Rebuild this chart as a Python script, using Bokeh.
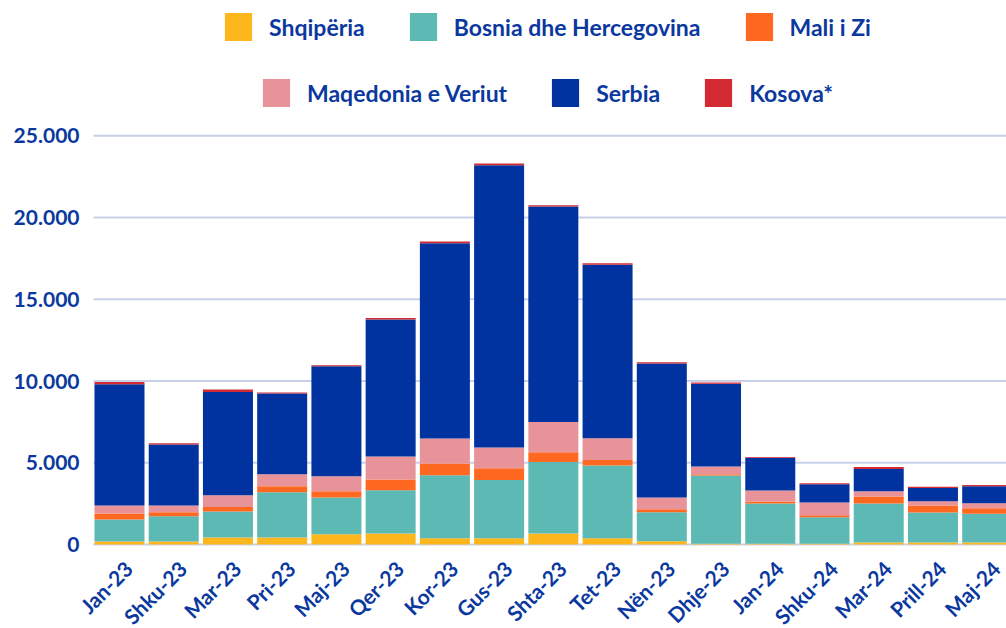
import math
from bokeh.plotting import figure
from bokeh.models import ColumnDataSource, Range1d, Legend, LegendItem, LabelSet
from bokeh.core.properties import value
from bokeh.embed import file_html
from bokeh.resources import INLINE

months = ["Jan-23", "Shku-23", "Mar-23", "Pri-23", "Maj-23", "Qer-23", "Kor-23", "Gus-23",
          "Shta-23", "Tet-23", "Nën-23", "Dhje-23", "Jan-24", "Shku-24", "Mar-24",
          "Prill-24", "Maj-24"]

shqiperia = [180, 180, 430, 430, 630, 670, 390, 390, 670, 390, 200, 40, 40, 40, 120, 120, 120]
bosnia = [1350, 1550, 1590, 2770, 2250, 2650, 3840, 3550, 4370, 4450, 1780, 4180, 2470, 1630, 2390, 1840, 1760]
mali_i_zi = [370, 250, 270, 370, 370, 650, 730, 730, 610, 330, 180, 80, 120, 120, 430, 430, 330]
maqedonia = [490, 410, 720, 730, 920, 1410, 1530, 1270, 1840, 1330, 710, 470, 670, 780, 310, 250, 310]
serbia = [7410, 3730, 6320, 4940, 6730, 8380, 11930, 17260, 13180, 10610, 8200, 5060, 2000, 1120, 1370, 820, 1040]
kosova = [140, 80, 150, 60, 60, 100, 120, 100, 80, 100, 80, 80, 60, 60, 120, 80, 80]

series_names = ["Shqipëria", "Bosnia dhe Hercegovina", "Mali i Zi",
                "Maqedonia e Veriut", "Serbia", "Kosova*"]
series_keys = ["shq", "bih", "mne", "mkd", "srb", "kos"]
colors = ["#FDB71C", "#5CB9B3", "#FF6820", "#E8939A", "#0033A0", "#D42A34"]

y_ticks = [0, 5000, 10000, 15000, 20000, 25000]
y_labels = ["0", "5.000", "10.000", "15.000", "20.000", "25.000"]

TEXT = "#0A389E"
FONT = "Lato"

X_START, X_END = -2.194, 16.356   # visible category span
GRID_START = -0.479               # left edge of the plotting area (value axis side)

x_pos = list(range(len(months)))
src = ColumnDataSource(dict(x=x_pos, shq=shqiperia, bih=bosnia, mne=mali_i_zi,
                            mkd=maqedonia, srb=serbia, kos=kosova, month=months,
                            base=[0] * len(months)))
ysrc = ColumnDataSource(dict(y=y_ticks, label=y_labels,
                             x0=[GRID_START] * len(y_ticks), x1=[X_END] * len(y_ticks)))

p = figure(width=1006, height=628,
           x_range=Range1d(X_START, X_END), y_range=Range1d(-5138, 33276),
           x_axis_location=None, y_axis_location=None,
           output_backend="svg", toolbar_location=None,
           min_border_left=0, min_border_right=0, min_border_top=0, min_border_bottom=0)
p.outline_line_color = None
p.background_fill_color = "white"
p.border_fill_color = "white"
p.xgrid.visible = False
p.ygrid.visible = False

# horizontal gridlines at the value ticks
p.segment(x0="x0", y0="y", x1="x1", y1="y", source=ysrc,
          line_color="#C9D1EA", line_width=2)

rs = p.vbar_stack(series_keys, x="x", width=0.922, source=src,
                  fill_color=colors, line_color=None)

# value tick labels
p.add_layout(LabelSet(x="x0", y="y", text="label", source=ysrc,
                      x_offset=-14, text_align="right", text_baseline="middle",
                      text_font=value(FONT), text_font_style="bold", text_font_size="21px",
                      text_color=TEXT))

# month labels below the baseline, rotated 45 degrees
p.add_layout(LabelSet(x="x", y="base", text="month", source=src, angle=math.pi / 4,
                      x_offset=9, y_offset=-20, text_align="right", text_baseline="middle",
                      text_font=value(FONT), text_font_style="bold", text_font_size="21px",
                      text_color=TEXT))


def make_legend(idx, loc):
    leg = Legend(items=[LegendItem(label=series_names[i], renderers=[rs[i]]) for i in idx],
                 orientation="horizontal", location=loc, margin=0,
                 padding=0, spacing=41, label_standoff=14,
                 glyph_width=34, glyph_height=35,
                 label_text_font=FONT, label_text_font_style="bold",
                 label_text_font_size="23px", label_text_color=TEXT,
                 border_line_color=None, background_fill_alpha=0)
    return leg


p.add_layout(make_legend([0, 1, 2], (221, 584)))
p.add_layout(make_legend([3, 4, 5], (259, 518)))

open("out.html", "w").write(file_html(p, INLINE))
